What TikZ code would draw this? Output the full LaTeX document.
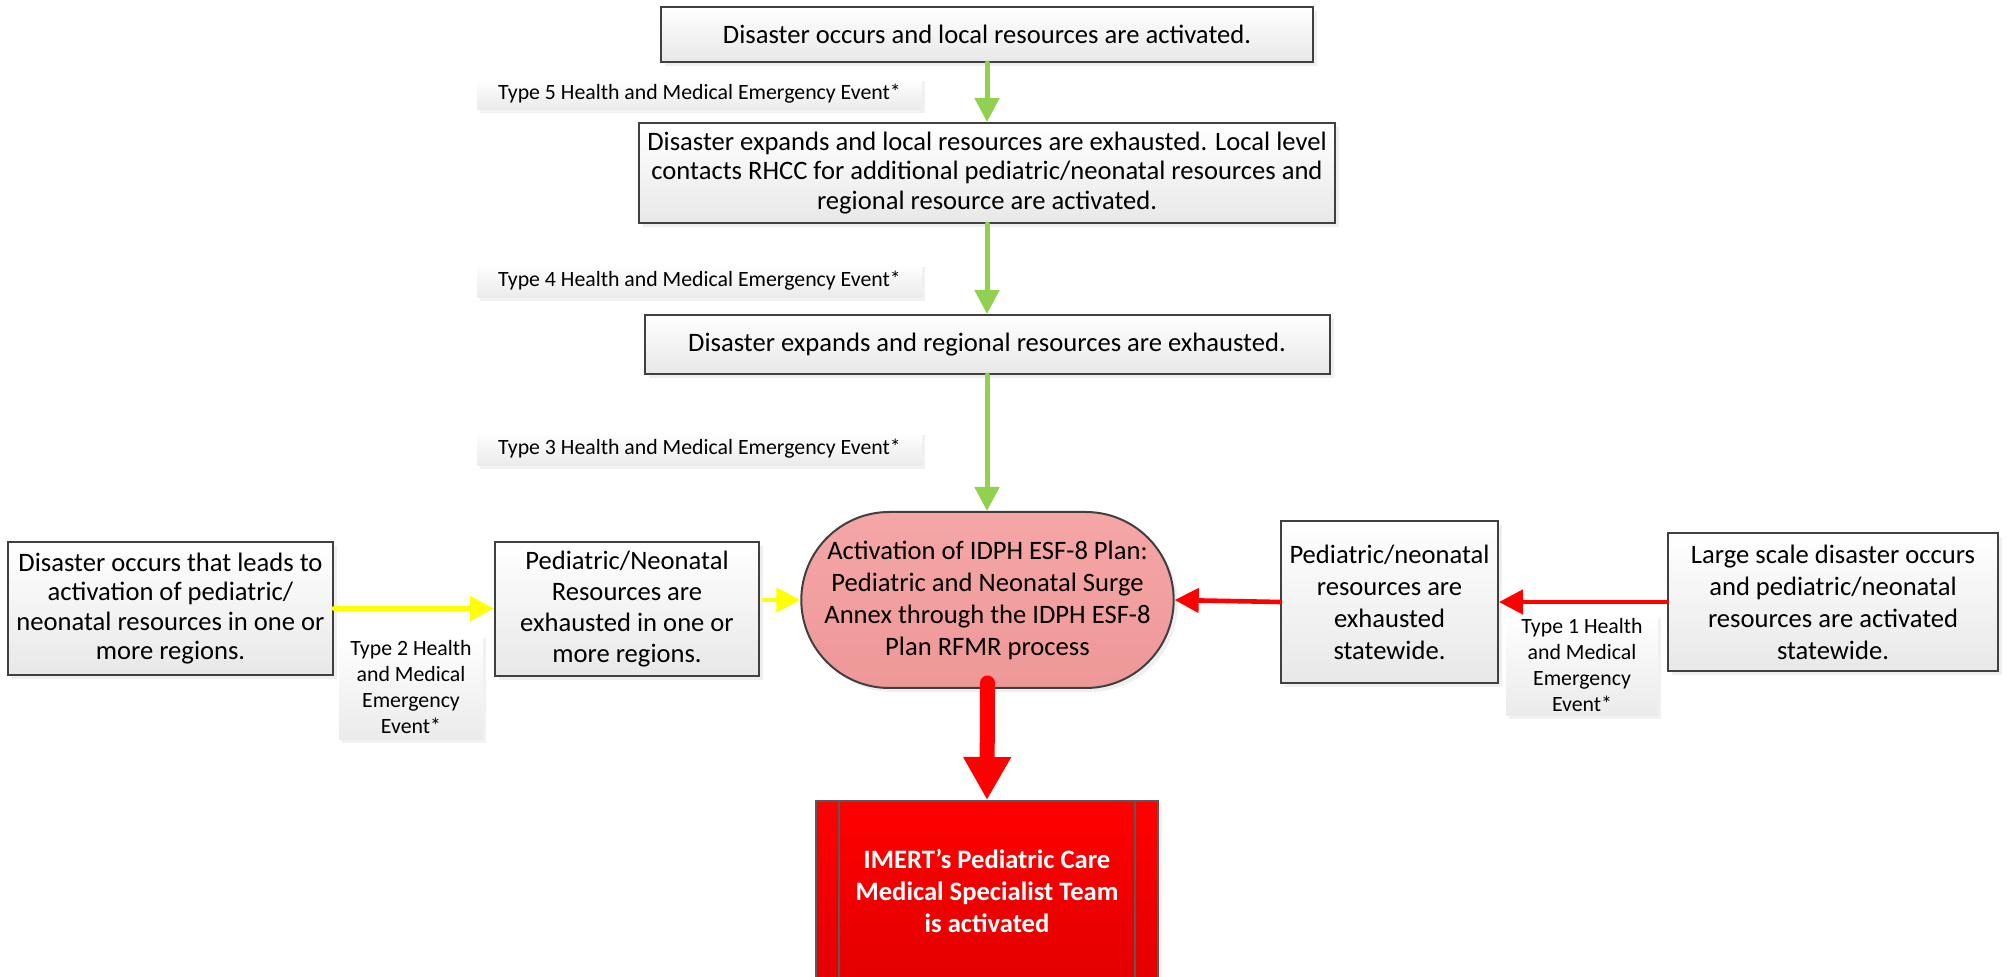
\documentclass[tikz,border=0pt]{standalone}
\usepackage{fontspec}
\setmainfont{Carlito}
\usetikzlibrary{arrows.meta,shadows,shapes.misc,calc}
\definecolor{bordergray}{HTML}{404040}
\definecolor{grnarrow}{HTML}{92D050}
\definecolor{ylwarrow}{HTML}{FFFF00}
\definecolor{redarrow}{HTML}{FF0000}
\definecolor{pinktop}{HTML}{F5A6A6}
\definecolor{pinkbot}{HTML}{EE9898}
\definecolor{redtop}{HTML}{FF0000}
\definecolor{redbot}{HTML}{DC0000}
\begin{document}
\begin{tikzpicture}[x=0.5pt,y=-0.5pt,
  procbox/.style={draw=bordergray, line width=1pt, top color=white, bottom color=black!9,
    drop shadow={shadow xshift=2pt,shadow yshift=-2pt,fill=black!12},
    inner sep=0pt, align=center, font=\fontsize{13.3pt}{16pt}\selectfont},
  evlabel/.style={top color=white, bottom color=black!8,
    drop shadow={shadow xshift=1.5pt,shadow yshift=-1.5pt,fill=black!10},
    inner sep=0pt, align=center, font=\fontsize{10.9pt}{13pt}\selectfont},
  grn/.style={draw=grnarrow, line width=2.5pt, line cap=round, -{Triangle[width=12pt,length=12pt]}},
  ylw/.style={draw=ylwarrow, line width=2.3pt, line cap=round, -{Triangle[width=12pt,length=12pt]}},
  rd/.style={draw=redarrow, line width=2.3pt, line cap=round, -{Triangle[width=12pt,length=12pt]}},
  rdthick/.style={draw=redarrow, line width=7.5pt, line cap=round, -{Triangle[width=22.5pt,length=21.5pt]}}
]
\useasboundingbox (0,0) rectangle (2010,977);
\clip (0,0) rectangle (2010,977);
\fill[white] (0,0) rectangle (2010,977);

% top column
\node[procbox, minimum width=326pt, minimum height=27.5pt] (b1) at (987,34.5)
  {Disaster occurs and local resources are activated.};
\node[procbox, minimum width=348pt, minimum height=50pt, font=\fontsize{13.3pt}{14.8pt}\selectfont] (b2) at (987,173)
  {Disaster expands and local resources are exhausted. Local level\\contacts RHCC for additional pediatric/neonatal resources and\\regional resource are activated.};
\node[procbox, minimum width=342.5pt, minimum height=29.5pt] (b3) at (987,344.5)
  {Disaster expands and regional resources are exhausted.};

% labels
\node[evlabel, minimum width=222.5pt, minimum height=16pt] (l5) at (699.5,94) {Type 5 Health and Medical Emergency Event*};
\node[evlabel, minimum width=222.5pt, minimum height=17pt] (l4) at (699.5,281) {Type 4 Health and Medical Emergency Event*};
\node[evlabel, minimum width=222.5pt, minimum height=17pt] (l3) at (699.5,449) {Type 3 Health and Medical Emergency Event*};
\node[evlabel, minimum width=72pt, minimum height=52.5pt] (l2) at (411,687.5) {Type 2 Health\\and Medical\\Emergency\\Event*};
\node[evlabel, minimum width=76pt, minimum height=50.5pt] (l1) at (1582,665.5) {Type 1 Health\\and Medical\\Emergency\\Event*};

% middle row
\node[procbox, minimum width=162.5pt, minimum height=66.5pt, font=\fontsize{13.3pt}{14.6pt}\selectfont] (A) at (170.5,608.5)
  {Disaster occurs that leads to\\activation of pediatric/\\neonatal resources in one or\\more regions.};
\node[procbox, minimum width=132pt, minimum height=67pt, font=\fontsize{13.3pt}{15.6pt}\selectfont] (B) at (627,609)
  {Pediatric/Neonatal\\Resources are\\exhausted in one or\\more regions.};
\node[draw=bordergray, line width=1pt, shape=rounded rectangle, top color=pinktop, bottom color=pinkbot,
  drop shadow={shadow xshift=2pt,shadow yshift=-2pt,fill=black!12},
  minimum width=179.5pt, minimum height=88pt, inner sep=0pt, align=center,
  font=\fontsize{13.3pt}{16pt}\selectfont] (E) at (987.5,600)
  {Activation of IDPH ESF-8 Plan:\\Pediatric and Neonatal Surge\\Annex through the IDPH ESF-8\\Plan RFMR process};
\node[procbox, minimum width=108.5pt, minimum height=81pt] (C) at (1389.5,602)
  {Pediatric/neonatal\\resources are\\exhausted\\statewide.};
\node[procbox, minimum width=165pt, minimum height=69pt] (D) at (1833,602)
  {Large scale disaster occurs\\and pediatric/neonatal\\resources are activated\\statewide.};

% bottom red box
\node[draw=black!65, line width=1pt, top color=redtop, bottom color=redbot,
  drop shadow={shadow xshift=2pt,shadow yshift=-2pt,fill=black!12},
  minimum width=171pt, minimum height=110pt, inner sep=0pt] (R) at (987,911) {};
\draw[black!65, line width=1pt] ($(R.north west)+(12pt,0)$) -- ($(R.south west)+(12pt,0)$);
\draw[black!65, line width=1pt] ($(R.north east)+(-12pt,0)$) -- ($(R.south east)+(-12pt,0)$);
\node[text=white, align=center, font=\bfseries\fontsize{13.3pt}{16pt}\selectfont] (Rt) at (987,891)
  {IMERT’s Pediatric Care\\Medical Specialist Team\\is activated};

% connectors
\draw[grn] (b1.south) -- (b1.south |- b2.north);
\draw[grn] (b2.south) -- (b2.south |- b3.north);
\draw[grn] (b3.south) -- (b3.south |- E.north);
\draw[ylw] (A.east) -- (A.east -| B.west);
\draw[ylw] ($(B.east |- E.west)+(4,0)$) -- (E.west);
\draw[rd] (D.west) -- (C.east);
\draw[rd] (C.west) -- (E.east);
\draw[rdthick] ($(E.south)+(0,-6)$) -- (R.north);
\end{tikzpicture}
\end{document}
